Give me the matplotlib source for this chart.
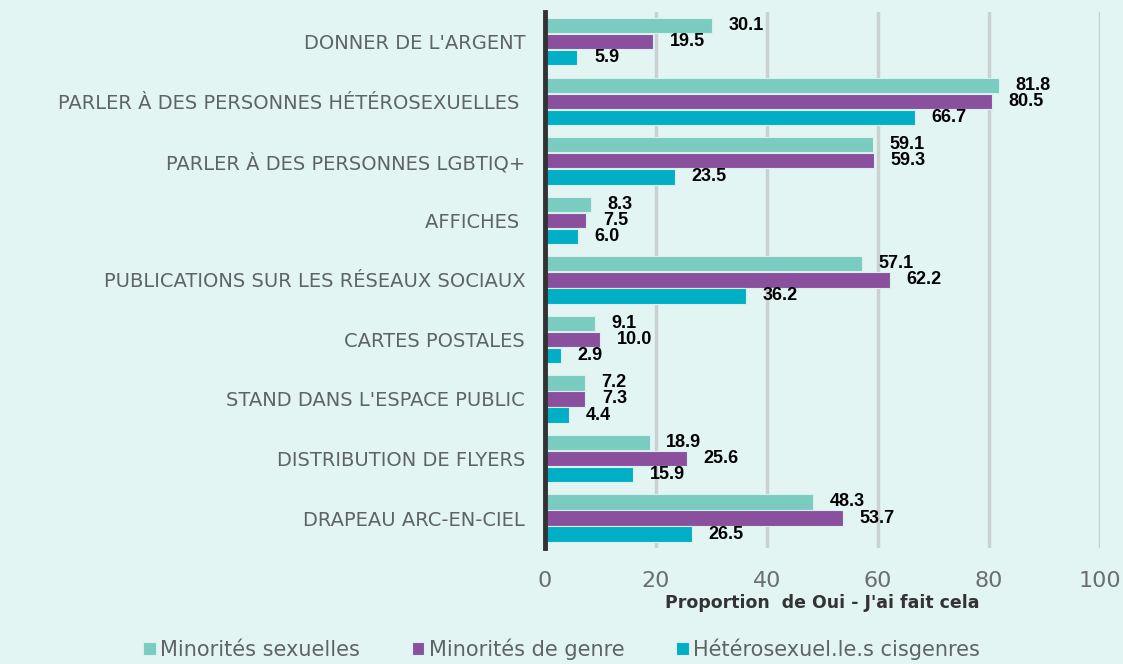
import numpy as np
import matplotlib.pyplot as plt

categories = ["DONNER DE L'ARGENT", "PARLER À DES PERSONNES HÉTÉROSEXUELLES ",
              "PARLER À DES PERSONNES LGBTIQ+", "AFFICHES ",
              "PUBLICATIONS SUR LES RÉSEAUX SOCIAUX", "CARTES POSTALES",
              "STAND DANS L'ESPACE PUBLIC", "DISTRIBUTION DE FLYERS",
              "DRAPEAU ARC-EN-CIEL"]
min_sexuelles = [30.1, 81.8, 59.1, 8.3, 57.1, 9.1, 7.2, 18.9, 48.3]
min_genre = [19.5, 80.5, 59.3, 7.5, 62.2, 10.0, 7.3, 25.6, 53.7]
hetero_cis = [5.9, 66.7, 23.5, 6.0, 36.2, 2.9, 4.4, 15.9, 26.5]
series_names = ["Minorités sexuelles", "Minorités de genre", "Hétérosexuel.le.s cisgenres"]
colors = ["#7ACBC0", "#8A509E", "#00AFC5"]

bg = "#E3F5F3"
plt.rcParams['font.family'] = ['DejaVu Sans']

fig = plt.figure(figsize=(11.23, 6.64), dpi=100, facecolor=bg)
ax = fig.add_axes([0.485, 0.175, 0.4945, 0.807], facecolor=bg)

y = np.arange(len(categories))
h = 0.27
for k, vals in enumerate([min_sexuelles, min_genre, hetero_cis]):
    pos = y + (k - 1) * h
    ax.barh(pos, vals, height=h * 0.95, color=colors[k], edgecolor="#D8F0EE",
            linewidth=0.8, label=series_names[k], zorder=3)
    for p, v in zip(pos, vals):
        ax.annotate(f"{v:.1f}", (v, p), xytext=(12, 0), textcoords="offset points",
                    ha="left", va="center", fontsize=13, fontweight="bold",
                    color="black", family=['Liberation Sans'], zorder=4)

ax.set_xlim(0, 100)
ax.set_ylim(8.5, -0.5)
ax.set_yticks(y)
ax.set_yticklabels(categories, fontsize=14, color="#5E6464")
ax.set_xticks([0, 20, 40, 60, 80, 100])
ax.tick_params(axis="x", labelsize=16, colors="#6A6E6E", length=0, pad=17)
ax.tick_params(axis="y", length=0, pad=14)
ax.grid(axis="x", color="#C9D2D1", linewidth=2.5, zorder=0)
for s in ["top", "right", "bottom"]:
    ax.spines[s].set_visible(False)
ax.spines["left"].set_color("#333333")
ax.spines["left"].set_linewidth(3.5)
ax.spines["left"].set_zorder(5)

ax.set_xlabel("Proportion  de Oui - J'ai fait cela", fontsize=12.5, fontweight="heavy",
              color="#333333", labelpad=2)

leg = fig.legend(loc="lower center", bbox_to_anchor=(0.5, -0.022), ncol=3, frameon=False,
                 fontsize=15, handlelength=0.6, handleheight=0.6, handletextpad=0.2,
                 columnspacing=2.5)
for t in leg.get_texts():
    t.set_color("#5E6464")

fig.savefig("out.png", dpi=100, facecolor=bg)
